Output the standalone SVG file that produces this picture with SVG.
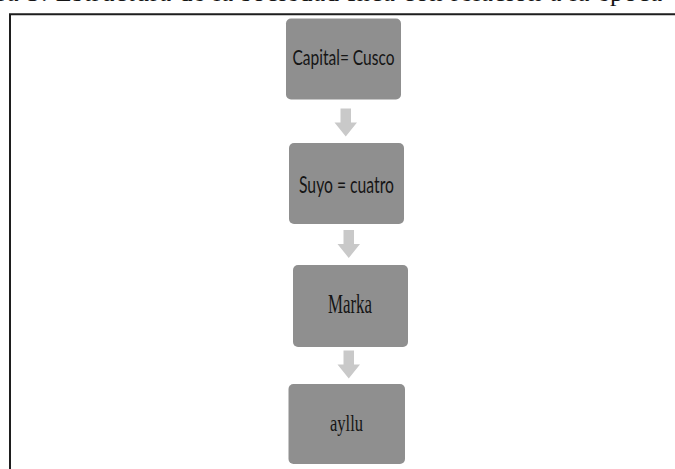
<svg xmlns="http://www.w3.org/2000/svg" width="675" height="469" viewBox="0 0 675 469">
  <style>
    .box { fill: #8f8f8f; }
    .arrow { fill: #c9c9c9; }
    .sans { font-family: "Lato", "Open Sans", "Liberation Sans", sans-serif; fill: #151515; }
    .serif { font-family: "Liberation Serif", "DejaVu Serif", serif; fill: #151515; }
  </style>
  <defs>
    <!-- block arrow pointing down, drawn at origin and moved into place -->
    <path id="down" class="arrow" d="M6.5 0 H17 V14 H23 L11.75 28 L0.5 14 H6.5 Z"/>
  </defs>
  <rect width="675" height="469" fill="#ffffff"/>

  <!-- caption line, sitting just above the page edge -->
  <text class="serif" x="-54" y="1" font-size="26" textLength="716" lengthAdjust="spacing">Figura 3. Estructura de la sociedad Inca con relación a la época</text>

  <!-- frame -->
  <path d="M10 470 V14.3 H676" fill="none" stroke="#1e1e1e" stroke-width="2"/>

  <g id="connectors">
    <use href="#down" x="334" y="108.5"/>
    <use href="#down" x="337" y="230"/>
    <use href="#down" x="337" y="350.5"/>
  </g>

  <g id="capital">
    <rect class="box" x="286" y="18.5" width="115" height="81" rx="5"/>
    <text class="sans" x="343.5" y="65" font-size="21" text-anchor="middle" textLength="102" lengthAdjust="spacingAndGlyphs">Capital= Cusco</text>
  </g>

  <g id="suyo">
    <rect class="box" x="289" y="143" width="115" height="81" rx="5"/>
    <text class="sans" x="346.5" y="192.5" font-size="24" text-anchor="middle" textLength="95" lengthAdjust="spacingAndGlyphs">Suyo = cuatro</text>
  </g>

  <g id="marka">
    <rect class="box" x="293" y="265" width="115" height="82" rx="5"/>
    <text class="serif" x="350" y="313" font-size="27" text-anchor="middle" textLength="44" lengthAdjust="spacingAndGlyphs">Marka</text>
  </g>

  <g id="ayllu">
    <rect class="box" x="288.5" y="384" width="116.5" height="80" rx="5"/>
    <text class="serif" x="346.5" y="431" font-size="24" text-anchor="middle" textLength="33" lengthAdjust="spacingAndGlyphs">ayllu</text>
  </g>
</svg>
